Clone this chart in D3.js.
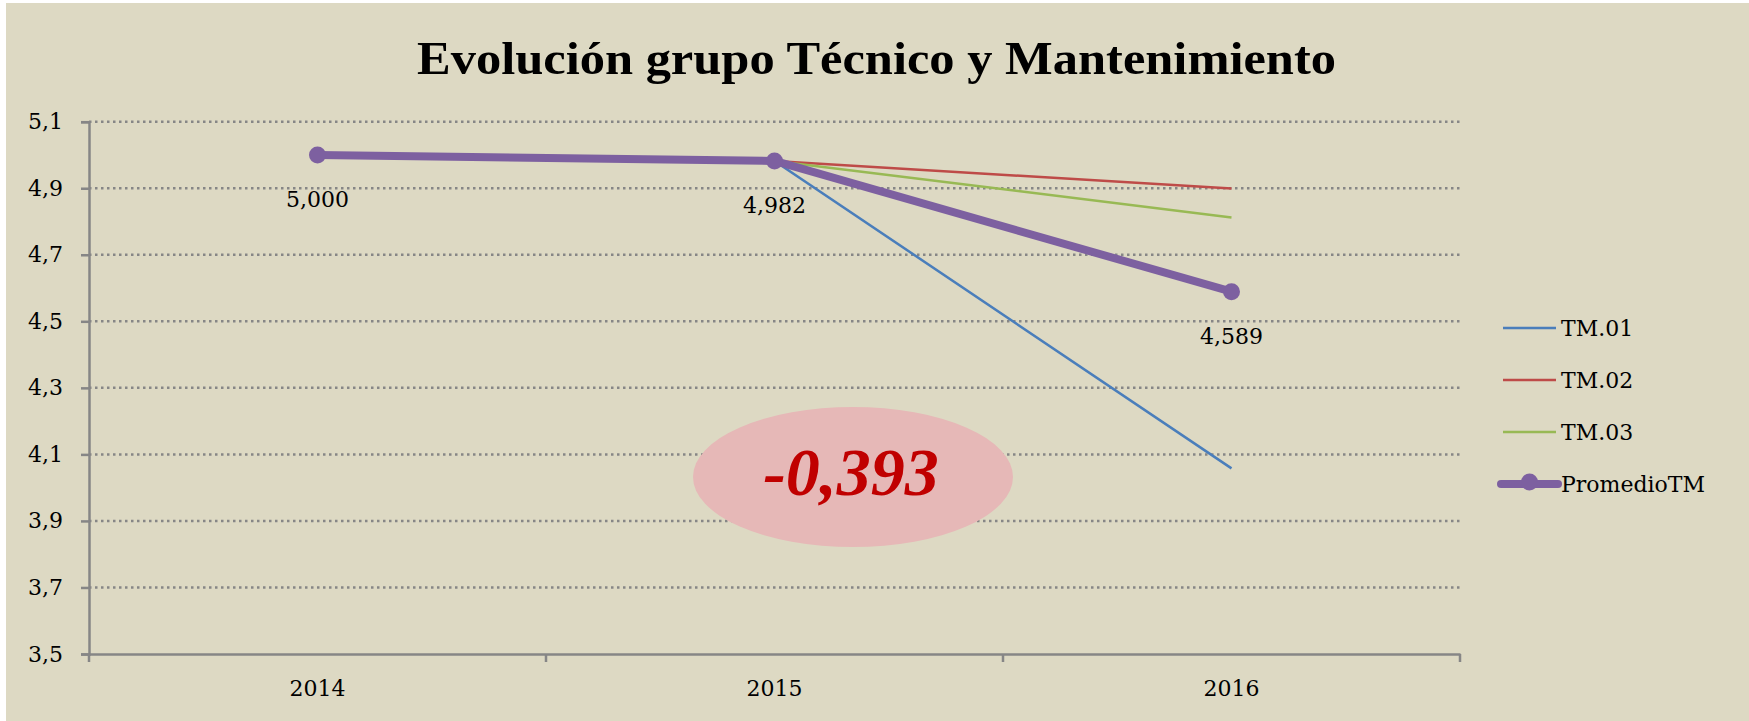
<html>
  <meta charset="utf-8">
  <head>
  <style>
    body { margin: 0; background: #ffffff; }
    svg text { font-family: "DejaVu Serif", serif; }
  </style>
  </head>
  <body>
    <div id="chart"></div>
    <script src="https://d3js.org/d3.v7.min.js"></script>
    <script>
    'use strict';

    var years = ['2014', '2015', '2016'];
    var yTicks = [3.5, 3.7, 3.9, 4.1, 4.3, 4.5, 4.7, 4.9, 5.1];
    var tm01 = [5.000, 4.982, 4.058];
    var tm02 = [5.000, 4.982, 4.899];
    var tm03 = [5.000, 4.982, 4.812];
    var promedio = [5.000, 4.982, 4.589];
    var seriesNames = ['TM.01', 'TM.02', 'TM.03', 'PromedioTM'];
    var seriesColors = ['#4a7ebb', '#be4b48', '#98b954', '#7d60a0'];
    var diffLabel = '-0,393';

    var W = 1749, H = 721;
    var fmt = function(v) { return d3.format('.3f')(v).replace('.', ','); };
    var fmtTick = function(v) { return d3.format('.1f')(v).replace('.', ','); };

    var svg = d3.select('#chart').append('svg')
        .attr('width', W).attr('height', H);

    svg.append('rect')
        .attr('x', 6).attr('y', 3)
        .attr('width', W - 6).attr('height', H - 3)
        .attr('fill', '#ddd9c3');

    var x = d3.scaleBand().domain(years).range([89, 1460]);
    var y = d3.scaleLinear().domain([3.5, 5.1]).range([654, 121.7]);

    // title
    svg.append('text')
        .attr('x', 417).attr('y', 74)
        .attr('textLength', 919).attr('lengthAdjust', 'spacingAndGlyphs')
        .style('font-family', '"Liberation Serif", serif')
        .style('font-weight', 'bold')
        .style('font-size', '47px')
        .attr('fill', '#000')
        .text('Evolución grupo Técnico y Mantenimiento');

    // grid
    svg.append('g').selectAll('line')
        .data(yTicks.slice(1))
        .enter().append('line')
        .attr('x1', 89).attr('x2', 1460)
        .attr('y1', function(d) { return y(d); })
        .attr('y2', function(d) { return y(d); })
        .attr('stroke', '#868686')
        .attr('stroke-width', 2.5)
        .attr('stroke-dasharray', '2.5,3.5');

    // y axis
    var yAxis = svg.append('g')
        .attr('transform', 'translate(89,0)')
        .call(d3.axisLeft(y).tickValues(yTicks).tickFormat(fmtTick).tickSize(8).tickPadding(18));
    yAxis.select('.domain').attr('stroke', '#868686').attr('stroke-width', 2.5);
    yAxis.selectAll('.tick line').attr('stroke', '#868686').attr('stroke-width', 2.5);
    yAxis.selectAll('text')
        .style('font-family', '"DejaVu Serif", serif')
        .style('font-size', '22px').attr('fill', '#000');

    // x axis
    var xAxis = svg.append('g')
        .attr('transform', 'translate(0,654)')
        .call(d3.axisBottom(x).tickSize(0).tickPadding(26));
    xAxis.select('.domain').attr('stroke', '#868686').attr('stroke-width', 2.5);
    xAxis.selectAll('text')
        .style('font-family', '"DejaVu Serif", serif')
        .style('font-size', '22px').attr('fill', '#000');
    var bounds = years.map(function(d) { return x(d); }).concat([x.range()[1]]);
    xAxis.selectAll('.bound').data(bounds).enter().append('line')
        .attr('x1', function(d) { return d; }).attr('x2', function(d) { return d; })
        .attr('y1', 0).attr('y2', 8)
        .attr('stroke', '#868686').attr('stroke-width', 2.5);

    var cx = function(i) { return x(years[i]) + x.bandwidth() / 2; };
    var line = d3.line()
        .x(function(d, i) { return cx(i); })
        .y(function(d) { return y(d); });

    var thin = [tm01, tm02, tm03];
    thin.forEach(function(s, k) {
      svg.append('path').datum(s)
          .attr('d', line)
          .attr('fill', 'none')
          .attr('stroke', seriesColors[k])
          .attr('stroke-width', 2.5);
    });

    svg.append('path').datum(promedio)
        .attr('d', line)
        .attr('fill', 'none')
        .attr('stroke', seriesColors[3])
        .attr('stroke-width', 8)
        .attr('stroke-linejoin', 'round');
    svg.append('g').selectAll('circle')
        .data(promedio).enter().append('circle')
        .attr('cx', function(d, i) { return cx(i); })
        .attr('cy', function(d) { return y(d); })
        .attr('r', 8.5)
        .attr('fill', seriesColors[3]);
    svg.append('g').selectAll('text')
        .data(promedio).enter().append('text')
        .attr('x', function(d, i) { return cx(i); })
        .attr('y', function(d) { return y(d) + 52; })
        .attr('text-anchor', 'middle')
        .style('font-size', '22px')
        .attr('fill', '#000')
        .text(fmt);

    // highlight bubble
    svg.append('ellipse')
        .attr('cx', 853).attr('cy', 477)
        .attr('rx', 160).attr('ry', 70)
        .attr('fill', '#e6b8b7');
    svg.append('text')
        .attr('x', 851).attr('y', 495)
        .attr('text-anchor', 'middle')
        .style('font-family', '"Liberation Serif", serif')
        .style('font-weight', 'bold')
        .style('font-style', 'italic')
        .style('font-size', '68px')
        .attr('fill', '#c00000')
        .text(diffLabel);

    // legend
    var leg = svg.append('g').selectAll('g')
        .data(seriesNames).enter().append('g')
        .attr('transform', function(d, i) { return 'translate(1503,' + (328 + i * 52) + ')'; });
    leg.append('line')
        .attr('x1', function(d, i) { return i === 3 ? -2 : 0; })
        .attr('x2', function(d, i) { return i === 3 ? 55 : 53; })
        .attr('stroke', function(d, i) { return seriesColors[i]; })
        .attr('stroke-width', function(d, i) { return i === 3 ? 8 : 2.5; })
        .attr('stroke-linecap', function(d, i) { return i === 3 ? 'round' : 'butt'; });
    leg.filter(function(d, i) { return i === 3; }).append('circle')
        .attr('cx', 26.5).attr('cy', -2).attr('r', 8.5)
        .attr('fill', seriesColors[3]);
    leg.append('text')
        .attr('x', 58).attr('y', 8)
        .style('font-size', '22px')
        .attr('fill', '#000')
        .text(function(d) { return d; });
    </script>
  </body>
</html>
